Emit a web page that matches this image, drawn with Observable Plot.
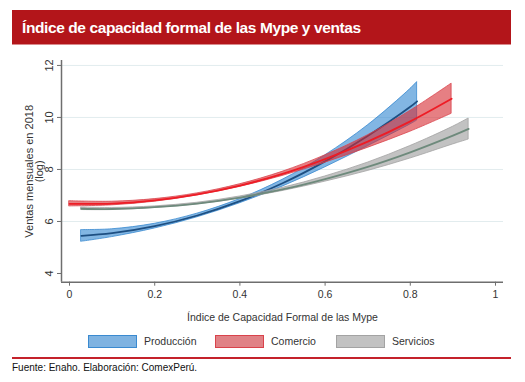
<!DOCTYPE html>
<html>
<head>
<meta charset="utf-8">
<script src="https://cdn.jsdelivr.net/npm/d3@7"></script>
<script src="https://cdn.jsdelivr.net/npm/@observablehq/plot@0.6"></script>
<style>
  html, body { margin: 0; padding: 0; background: #fff; }
  body { width: 525px; height: 382px; position: relative; overflow: hidden; font-family: "Liberation Sans", Arial, sans-serif; }
  #banner { position: absolute; left: 12px; top: 10px; width: 499px; height: 35px; background: #b3151a; border-bottom: 1px solid #d98a8c; box-sizing: border-box; }
  #banner span { position: absolute; left: 10px; top: 0; line-height: 35px; color: #fff; font-weight: bold; font-size: 15.5px; letter-spacing: -0.4px; white-space: nowrap; }
  #chart { position: absolute; left: 0; top: 50px; }
  .sw { position: absolute; top: 335px; width: 47px; height: 11px; border: 1px solid; }
  .lt { position: absolute; top: 334px; font-size: 10.5px; line-height: 14px; color: #333; white-space: nowrap; }
  #rule { position: absolute; left: 12px; top: 356.5px; width: 499px; height: 2px; background: #c4222b; }
  #source { position: absolute; left: 12px; top: 362px; font-size: 10px; line-height: 12px; color: #111; white-space: nowrap; }
</style>
</head>
<body>
<div id="banner"><span>Índice de capacidad formal de las Mype y ventas</span></div>
<div id="chart"></div>
<div id="legend"></div>
<div id="rule"></div>
<div id="source">Fuente: Enaho. Elaboración: ComexPerú.</div>
<script>
// ---- Data ----
const seriesNames = ["Producción", "Comercio", "Servicios"];

const prodX   = [0.028, 0.1, 0.2, 0.3, 0.4, 0.5, 0.6, 0.7, 0.8, 0.816];
const prodFit = [5.45, 5.55, 5.82, 6.23, 6.78, 7.47, 8.31, 9.29, 10.41, 10.62];
const prodLo  = [5.22, 5.40, 5.73, 6.16, 6.70, 7.34, 8.08, 8.89, 9.73, 9.88];
const prodHi  = [5.67, 5.70, 5.91, 6.30, 6.86, 7.60, 8.54, 9.69, 11.09, 11.36];

const commX   = [0, 0.1, 0.2, 0.3, 0.4, 0.5, 0.6, 0.7, 0.8, 0.897];
const commFit = [6.68, 6.69, 6.81, 7.04, 7.38, 7.83, 8.40, 9.07, 9.85, 10.72];
const commLo  = [6.58, 6.62, 6.76, 7.00, 7.33, 7.75, 8.26, 8.83, 9.45, 10.14];
const commHi  = [6.78, 6.76, 6.86, 7.08, 7.43, 7.91, 8.54, 9.31, 10.25, 11.30];

const servX   = [0.028, 0.1, 0.2, 0.3, 0.4, 0.5, 0.6, 0.7, 0.8, 0.9, 0.937];
const servFit = [6.49, 6.48, 6.55, 6.69, 6.92, 7.23, 7.63, 8.10, 8.66, 9.30, 9.56];
const servLo  = [6.44, 6.44, 6.52, 6.66, 6.88, 7.17, 7.53, 7.94, 8.42, 8.96, 9.15];
const servHi  = [6.54, 6.52, 6.58, 6.72, 6.96, 7.29, 7.73, 8.26, 8.90, 9.64, 9.96];

const xTicks = [0, 0.2, 0.4, 0.6, 0.8, 1];
const yTicks = [4, 6, 8, 10, 12];
const gridTicks = [6, 8, 10, 12];

const xTitle = "Índice de Capacidad Formal de las Mype";
const yTitle = "Ventas mensuales en 2018\n(log)";

// ---- Styles ----
const bandFill   = {"Producción": "#2f86d1", "Comercio": "#d62a30", "Servicios": "#999999"};
const bandStroke = {"Producción": "#3a8ad0", "Comercio": "#d9434b", "Servicios": "#a3a3a3"};
const lineColor  = {"Producción": "#1d4f82", "Comercio": "#ee1c25", "Servicios": "#6e8a7c"};
const swatchFill = {"Producción": "#7fb3e1", "Comercio": "#e08286", "Servicios": "#c2c2c2"};

function build(name, xs, fit, lo, hi) {
  return xs.map((x, i) => ({series: name, x, fit: fit[i], lo: lo[i], hi: hi[i]}));
}
const tables = {
  "Producción": build("Producción", prodX, prodFit, prodLo, prodHi),
  "Comercio": build("Comercio", commX, commFit, commLo, commHi),
  "Servicios": build("Servicios", servX, servFit, servLo, servHi)
};

const xDom = [-0.0188, 1.0188];
const yDom = [3.665, 12.19];
const axisColor = "#6e6e6e";

const marks = [
  Plot.ruleY(gridTicks, {x1: xDom[0], x2: xDom[1], stroke: "#e2ecee", strokeWidth: 1})
];
for (const s of seriesNames) {
  marks.push(Plot.areaY(tables[s], {x: "x", y1: "lo", y2: "hi", fill: bandFill[s], fillOpacity: 0.6,
    stroke: bandStroke[s], strokeWidth: 0.8, curve: "catmull-rom"}));
  marks.push(Plot.line(tables[s], {x: "x", y: "fit", stroke: lineColor[s], strokeWidth: 1.8, curve: "catmull-rom"}));
}
marks.push(
  Plot.ruleX([xDom[0]], {y1: yDom[0], y2: yDom[1], stroke: axisColor, strokeWidth: 1.5}),
  Plot.ruleY([yDom[0]], {x1: xDom[0], x2: xDom[1], stroke: axisColor, strokeWidth: 1.5}),
  Plot.axisX({ticks: xTicks, tickSize: 4, tickPadding: 4, tickFormat: d => String(d), label: null,
    stroke: axisColor, fill: "#333", fontSize: 10.5}),
  Plot.axisY({ticks: yTicks, tickSize: 4, tickPadding: 5, tickRotate: -90, tickFormat: d => String(d), label: null,
    stroke: axisColor, fill: "#333", fontSize: 11}),
  Plot.text([xTitle], {frameAnchor: "bottom", dy: 35, lineAnchor: "middle", fontSize: 10.5, fill: "#333"}),
  Plot.text([yTitle], {frameAnchor: "left", dx: -27, rotate: -90, textAnchor: "middle", lineAnchor: "middle",
    lineHeight: 0.95, fontSize: 11, fill: "#333"})
);

const chart = Plot.plot({
  width: 525,
  height: 280,
  marginLeft: 61,
  marginRight: 22,
  marginTop: 10,
  marginBottom: 48.3,
  style: {fontFamily: "'Liberation Sans', Arial, sans-serif", background: "transparent", overflow: "visible"},
  x: {domain: xDom},
  y: {domain: yDom},
  marks
});
document.getElementById("chart").appendChild(chart);

// ---- Legend ----
const legendSwatchX = [88, 215, 336];
const legendTextX = [144, 271, 392];
const legend = document.getElementById("legend");
seriesNames.forEach((s, i) => {
  const sw = document.createElement("div");
  sw.className = "sw";
  sw.style.left = legendSwatchX[i] + "px";
  sw.style.background = swatchFill[s];
  sw.style.borderColor = bandStroke[s];
  legend.appendChild(sw);
  const t = document.createElement("div");
  t.className = "lt";
  t.style.left = legendTextX[i] + "px";
  t.textContent = s;
  legend.appendChild(t);
});
</script>
</body>
</html>
